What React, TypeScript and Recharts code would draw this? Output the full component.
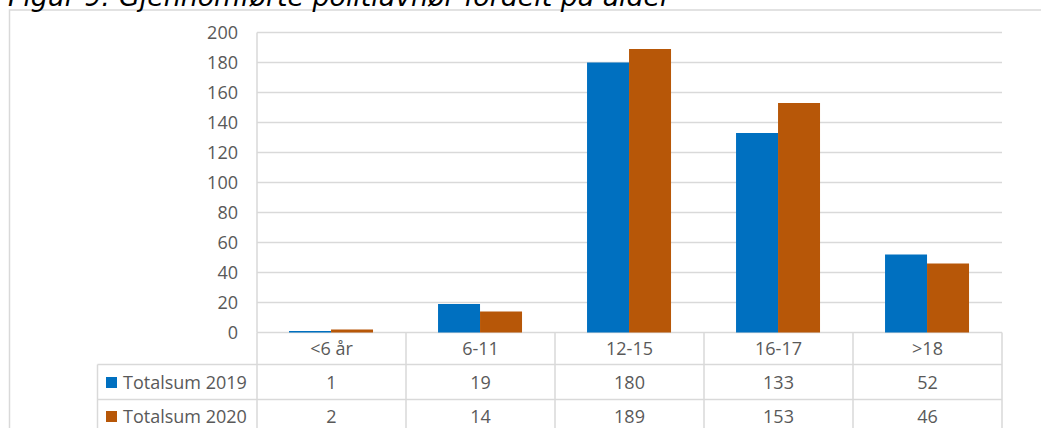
import React from 'react';
import { BarChart, Bar, XAxis, YAxis, CartesianGrid } from 'recharts';

const title = 'Figur 9: Gjennomførte politiavhør fordelt på alder';
const categories = ['<6 år', '6-11', '12-15', '16-17', '>18'];
const seriesNames = ['Totalsum 2019', 'Totalsum 2020'];
const totalsum2019 = [1, 19, 180, 133, 52];
const totalsum2020 = [2, 14, 189, 153, 46];
const yTicks = [0, 20, 40, 60, 80, 100, 120, 140, 160, 180, 200];

const COLORS = ['#0070C0', '#B75708'];
const GRID = '#D9D9D9';
const TEXT = '#595959';
const FONT = "'Open Sans', sans-serif";
const FS = 18;

const data = categories.map((c, i) => ({
  cat: c,
  s2019: totalsum2019[i],
  s2020: totalsum2020[i],
}));

const series = [totalsum2019, totalsum2020];

// table row boundaries relative to axis top
const ROW_BOUNDS = [0, 32, 67, 110];
const ROW_CENTERS = [16.5, 50.5, 84.5];
const LEGEND_LEFT = 97.5;

const TableTick = (props: any) => {
  const { x, y, index, width } = props;
  const n = categories.length;
  const band = (typeof width === 'number' && width > 0 ? width : 745) / n;
  const left = x - band / 2;
  const right = x + band / 2;
  const top = y;
  const bottom = top + ROW_BOUNDS[3];
  const lines: React.ReactNode[] = [];
  lines.push(<line key="vr" x1={right} x2={right} y1={top} y2={bottom} stroke={GRID} strokeWidth={1.5} />);
  if (index === 0) {
    lines.push(<line key="vl" x1={left} x2={left} y1={top} y2={bottom} stroke={GRID} strokeWidth={1.5} />);
  }
  [1, 2].forEach((r) => {
    lines.push(
      <line key={'h' + r} x1={left} x2={right} y1={top + ROW_BOUNDS[r]} y2={top + ROW_BOUNDS[r]} stroke={GRID} strokeWidth={1.5} />
    );
  });
  const legend: React.ReactNode[] = [];
  if (index === 0) {
    legend.push(
      <line key="ll" x1={LEGEND_LEFT} x2={LEGEND_LEFT} y1={top + ROW_BOUNDS[1]} y2={bottom} stroke={GRID} strokeWidth={1.5} />
    );
    [1, 2].forEach((r) => {
      legend.push(
        <line key={'lh' + r} x1={LEGEND_LEFT} x2={left} y1={top + ROW_BOUNDS[r]} y2={top + ROW_BOUNDS[r]} stroke={GRID} strokeWidth={1.5} />
      );
    });
    seriesNames.forEach((name, si) => {
      const cy = top + ROW_CENTERS[si + 1];
      legend.push(
        <rect key={'sq' + si} x={106} y={cy - 6} width={11} height={11} fill={COLORS[si]} />
      );
      legend.push(
        <text key={'lt' + si} x={123} y={cy} dy="0.35em" fill={TEXT} fontFamily={FONT} fontSize={FS} textAnchor="start">
          {name}
        </text>
      );
    });
  }
  return (
    <g>
      {lines}
      {legend}
      <text x={x} y={top + ROW_CENTERS[0]} dy="0.35em" textAnchor="middle" fill={TEXT} fontFamily={FONT} fontSize={FS}>
        {categories[index]}
      </text>
      {series.map((vals, si) => (
        <text key={si} x={x} y={top + ROW_CENTERS[si + 1]} dy="0.35em" textAnchor="middle" fill={TEXT} fontFamily={FONT} fontSize={FS}>
          {vals[index]}
        </text>
      ))}
    </g>
  );
};

export default function App() {
  return (
    <div style={{ position: 'absolute', left: 0, top: 0, width: 1041, height: 428, overflow: 'hidden', background: '#fff' }}>
      <BarChart
        width={1041}
        height={428}
        data={data}
        margin={{ top: 32.5, right: 39, left: 0, bottom: 0 }}
        barCategoryGap="21.5%"
        barGap={0}
      >
        <CartesianGrid vertical={false} stroke={GRID} strokeWidth={1.3} />
        <YAxis
          type="number"
          domain={[0, 200]}
          ticks={yTicks}
          width={257}
          axisLine={{ stroke: GRID, strokeWidth: 1.5 }}
          tickLine={false}
          tickSize={0}
          tickMargin={19}
          tick={{ fill: TEXT, fontFamily: FONT, fontSize: FS }}
          interval={0}
        />
        <XAxis
          dataKey="cat"
          height={95.5}
          axisLine={false}
          tickLine={false}
          tickSize={0}
          tickMargin={0}
          interval={0}
          tick={<TableTick />}
        />
        <Bar dataKey="s2019" name={seriesNames[0]} fill={COLORS[0]} isAnimationActive={false} />
        <Bar dataKey="s2020" name={seriesNames[1]} fill={COLORS[1]} isAnimationActive={false} />
      </BarChart>
      <svg width={1041} height={428} style={{ position: 'absolute', left: 0, top: 0, pointerEvents: 'none' }}>
        <rect x={9.5} y={10} width={1200} height={600} fill="none" stroke={GRID} strokeWidth={1.5} />
        <text x={8} y={6} fontFamily="'DejaVu Sans', sans-serif" fontStyle="italic" fontSize={26.8} fill="#000">
          {title}
        </text>
      </svg>
    </div>
  );
}
